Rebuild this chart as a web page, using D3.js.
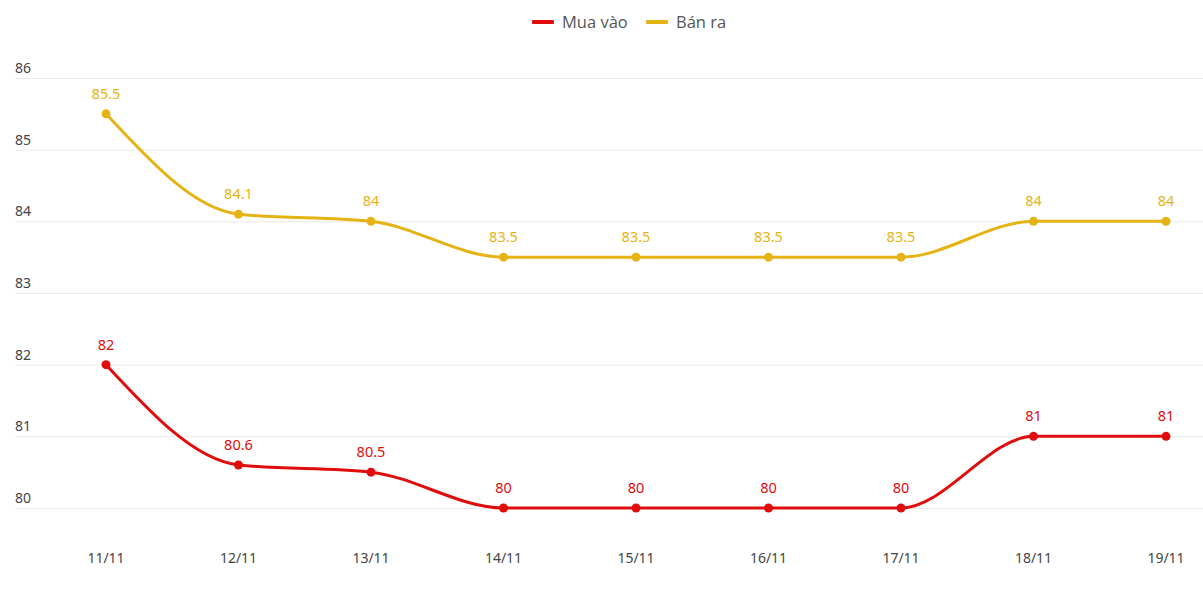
<!DOCTYPE html>
<html>
<head>
<meta charset="utf-8">
<script src="https://d3js.org/d3.v7.min.js"></script>
<style>
  body { margin: 0; background: #fff; }
  svg { display: block; }
</style>
</head>
<body>
<svg id="chart"></svg>
<script>
// data
var dates = ["11/11", "12/11", "13/11", "14/11", "15/11", "16/11", "17/11", "18/11", "19/11"];
var muaVao = [82, 80.6, 80.5, 80, 80, 80, 80, 81, 81];
var banRa = [85.5, 84.1, 84, 83.5, 83.5, 83.5, 83.5, 84, 84];
var yTicks = [80, 81, 82, 83, 84, 85, 86];

var width = 1203, height = 602;
var svg = d3.select("#chart").attr("width", width).attr("height", height);

var x = d3.scalePoint().domain(dates).range([106, 1166]);
var y = d3.scaleLinear().domain([80, 86]).range([508, 78]);

var series = [
  { name: "Mua vào", values: muaVao, color: "#e00d0d" },
  { name: "Bán ra", values: banRa, color: "#e6b315" }
];

// grid
svg.append("g").selectAll("line").data(yTicks).enter().append("line")
  .attr("x1", 15).attr("x2", width)
  .attr("y1", function(d) { return y(d) + 0.5; })
  .attr("y2", function(d) { return y(d) + 0.5; })
  .attr("stroke", "#e9e9e9");

// y tick labels
svg.append("g").selectAll("text").data(yTicks).enter().append("text")
  .attr("x", 15).attr("y", function(d) { return y(d) - 5; })
  .attr("font-family", "Noto Sans").attr("font-size", 14).attr("fill", "#444")
  .text(function(d) { return d; });

// x labels
svg.append("g").selectAll("text").data(dates).enter().append("text")
  .attr("x", function(d) { return x(d); }).attr("y", 563)
  .attr("text-anchor", "middle")
  .attr("font-family", "Noto Sans").attr("font-size", 14).attr("fill", "#444")
  .text(function(d) { return d; });

var line = d3.line()
  .x(function(d, i) { return x(dates[i]); })
  .y(function(d) { return y(d); })
  .curve(d3.curveMonotoneX);

series.forEach(function(s) {
  var g = svg.append("g");
  g.append("path").attr("d", line(s.values))
    .attr("fill", "none").attr("stroke", s.color).attr("stroke-width", 3);
  g.selectAll("circle").data(s.values).enter().append("circle")
    .attr("cx", function(d, i) { return x(dates[i]); })
    .attr("cy", function(d) { return y(d); })
    .attr("r", 4.5).attr("fill", s.color);
  g.selectAll("text").data(s.values).enter().append("text")
    .attr("x", function(d, i) { return x(dates[i]); })
    .attr("y", function(d) { return y(d) - 15; })
    .attr("text-anchor", "middle")
    .attr("font-family", "Noto Sans").attr("font-size", 14.5)
    .attr("fill", s.color)
    .text(function(d) { return d; });
});

// legend
var legend = svg.append("g");
var lx = [532, 646];
series.forEach(function(s, i) {
  legend.append("rect").attr("x", lx[i]).attr("y", 20).attr("width", 22).attr("height", 4)
    .attr("rx", 1).attr("fill", s.color);
  legend.append("text").attr("x", lx[i] + 30).attr("y", 28)
    .attr("font-family", "Open Sans").attr("font-size", 16.5).attr("fill", "#555")
    .text(s.name);
});
</script>
</body>
</html>
